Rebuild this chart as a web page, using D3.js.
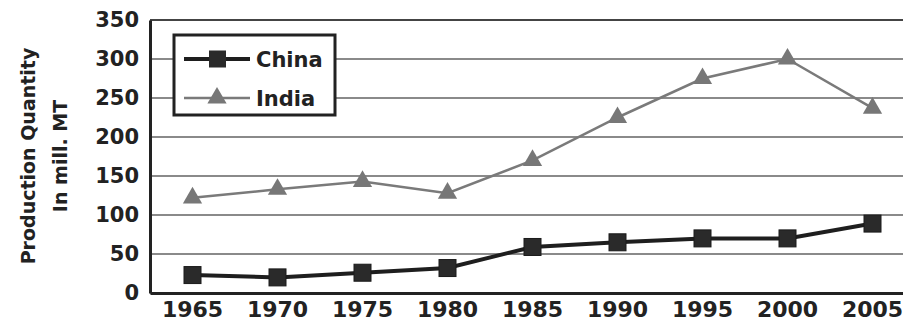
<!DOCTYPE html>
<html>
<head>
<meta charset="utf-8">
<script src="https://cdn.jsdelivr.net/npm/d3@7"></script>
<style>
  body { margin: 0; background: #fff; }
  svg { display: block; }
</style>
</head>
<body>
<svg id="chart"></svg>
<script>
var years = ["1965", "1970", "1975", "1980", "1985", "1990", "1995", "2000", "2005"];
var china = [23, 20, 26, 32, 59, 65, 70, 70, 89];
var india = [122, 133, 143, 128, 170, 225, 275, 300, 237];
var yTicks = [0, 50, 100, 150, 200, 250, 300, 350];

var width = 903, height = 325;
var margin = {top: 20, right: -12, bottom: 32, left: 150};

var svg = d3.select('#chart')
    .attr('width', width)
    .attr('height', height)

var x = d3.scaleBand()
    .domain(years)
    .range([margin.left, width - margin.right])

var y = d3.scaleLinear()
    .domain([0, 350])
    .range([height - margin.bottom, margin.top])

var font = "'DejaVu Sans', sans-serif";

// grid
svg.append('g')
  .selectAll('line')
  .data(yTicks)
  .enter()
  .append('line')
  .attr('x1', margin.left)
  .attr('x2', width)
  .attr('y1', function(d) { return y(d); })
  .attr('y2', function(d) { return y(d); })
  .attr('stroke', function(d) { return d == 350 ? '#444' : '#8a8a8a'; })
  .attr('stroke-width', 2.2)

// y axis
var yAxis = svg.append('g')
  .attr('transform', 'translate(' + margin.left + ',0)')
  .call(d3.axisLeft(y).tickValues(yTicks).tickSize(0).tickPadding(11))
yAxis.select('.domain').attr('stroke', '#222').attr('stroke-width', 3)
yAxis.selectAll('text')
  .attr('font-family', font)
  .attr('font-weight', 'bold')
  .attr('font-size', 21)
  .attr('fill', '#222')

// x axis
var xAxis = svg.append('g')
  .attr('transform', 'translate(0,' + y(0) + ')')
  .call(d3.axisBottom(x).tickSize(0).tickPadding(8))
xAxis.select('.domain').attr('stroke', '#222').attr('stroke-width', 3)
xAxis.selectAll('text')
  .attr('font-family', font)
  .attr('font-weight', 'bold')
  .attr('font-size', 22)
  .attr('fill', '#222')

// y label
var ylab = svg.append('text')
  .attr('transform', 'translate(35,156) rotate(-90)')
  .attr('text-anchor', 'middle')
  .attr('font-family', font)
  .attr('font-weight', 'bold')
  .attr('font-size', 19)
  .attr('fill', '#222')
ylab.append('tspan').attr('x', 0).attr('dy', 0).text('Production Quantity')
ylab.append('tspan').attr('x', 0).attr('dy', 32).text('In mill. MT')

var cx = function(d, i) { return x(years[i]) + x.bandwidth() / 2; };

var line = d3.line()
  .x(cx)
  .y(function(d) { return y(d); })

// India
svg.append('path')
  .datum(india)
  .attr('d', line)
  .attr('fill', 'none')
  .attr('stroke', '#7a7a7a')
  .attr('stroke-width', 2.5)

var tri = d3.symbol().type(d3.symbolTriangle).size(160)

svg.selectAll('.tri')
  .data(india)
  .enter()
  .append('path')
  .attr('class', 'tri')
  .attr('d', tri)
  .attr('transform', function(d, i) { return 'translate(' + cx(d, i) + ',' + y(d) + ')'; })
  .attr('fill', '#777')

// China
svg.append('path')
  .datum(china)
  .attr('d', line)
  .attr('fill', 'none')
  .attr('stroke', '#1e1e1e')
  .attr('stroke-width', 4)

svg.selectAll('.sq')
  .data(china)
  .enter()
  .append('rect')
  .attr('class', 'sq')
  .attr('x', function(d, i) { return cx(d, i) - 8.5; })
  .attr('y', function(d) { return y(d) - 8.5; })
  .attr('width', 17)
  .attr('height', 17)
  .attr('fill', '#2a2a2a')
  .attr('stroke', '#1a1a1a')
  .attr('stroke-width', 1)

// legend
var legend = svg.append('g')
legend.append('rect')
  .attr('x', 174).attr('y', 35)
  .attr('width', 161).attr('height', 80)
  .attr('fill', '#fff')
  .attr('stroke', '#222')
  .attr('stroke-width', 3)

var series = [
  {name: 'China', color: '#1e1e1e', w: 4, shape: 'sq'},
  {name: 'India', color: '#7a7a7a', w: 2.5, shape: 'tri'}
];
var row = legend.selectAll('.row')
  .data(series)
  .enter()
  .append('g')
  .attr('transform', function(d, i) { return 'translate(0,' + (59 + i * 39) + ')'; })

row.append('line')
  .attr('x1', 184).attr('x2', 250)
  .attr('stroke', function(d) { return d.color; })
  .attr('stroke-width', function(d) { return d.w; })

row.each(function(d) {
  var g = d3.select(this);
  if (d.shape == 'sq') {
    g.append('rect').attr('x', 209).attr('y', -8.5).attr('width', 17).attr('height', 17).attr('fill', '#2a2a2a')
  } else {
    g.append('path').attr('d', tri).attr('transform', 'translate(217,0)').attr('fill', '#777')
  }
})

row.append('text')
  .attr('x', 256)
  .attr('dy', '0.36em')
  .attr('font-family', font)
  .attr('font-weight', 'bold')
  .attr('font-size', 21)
  .attr('fill', '#222')
  .text(function(d) { return d.name; })
</script>
</body>
</html>
